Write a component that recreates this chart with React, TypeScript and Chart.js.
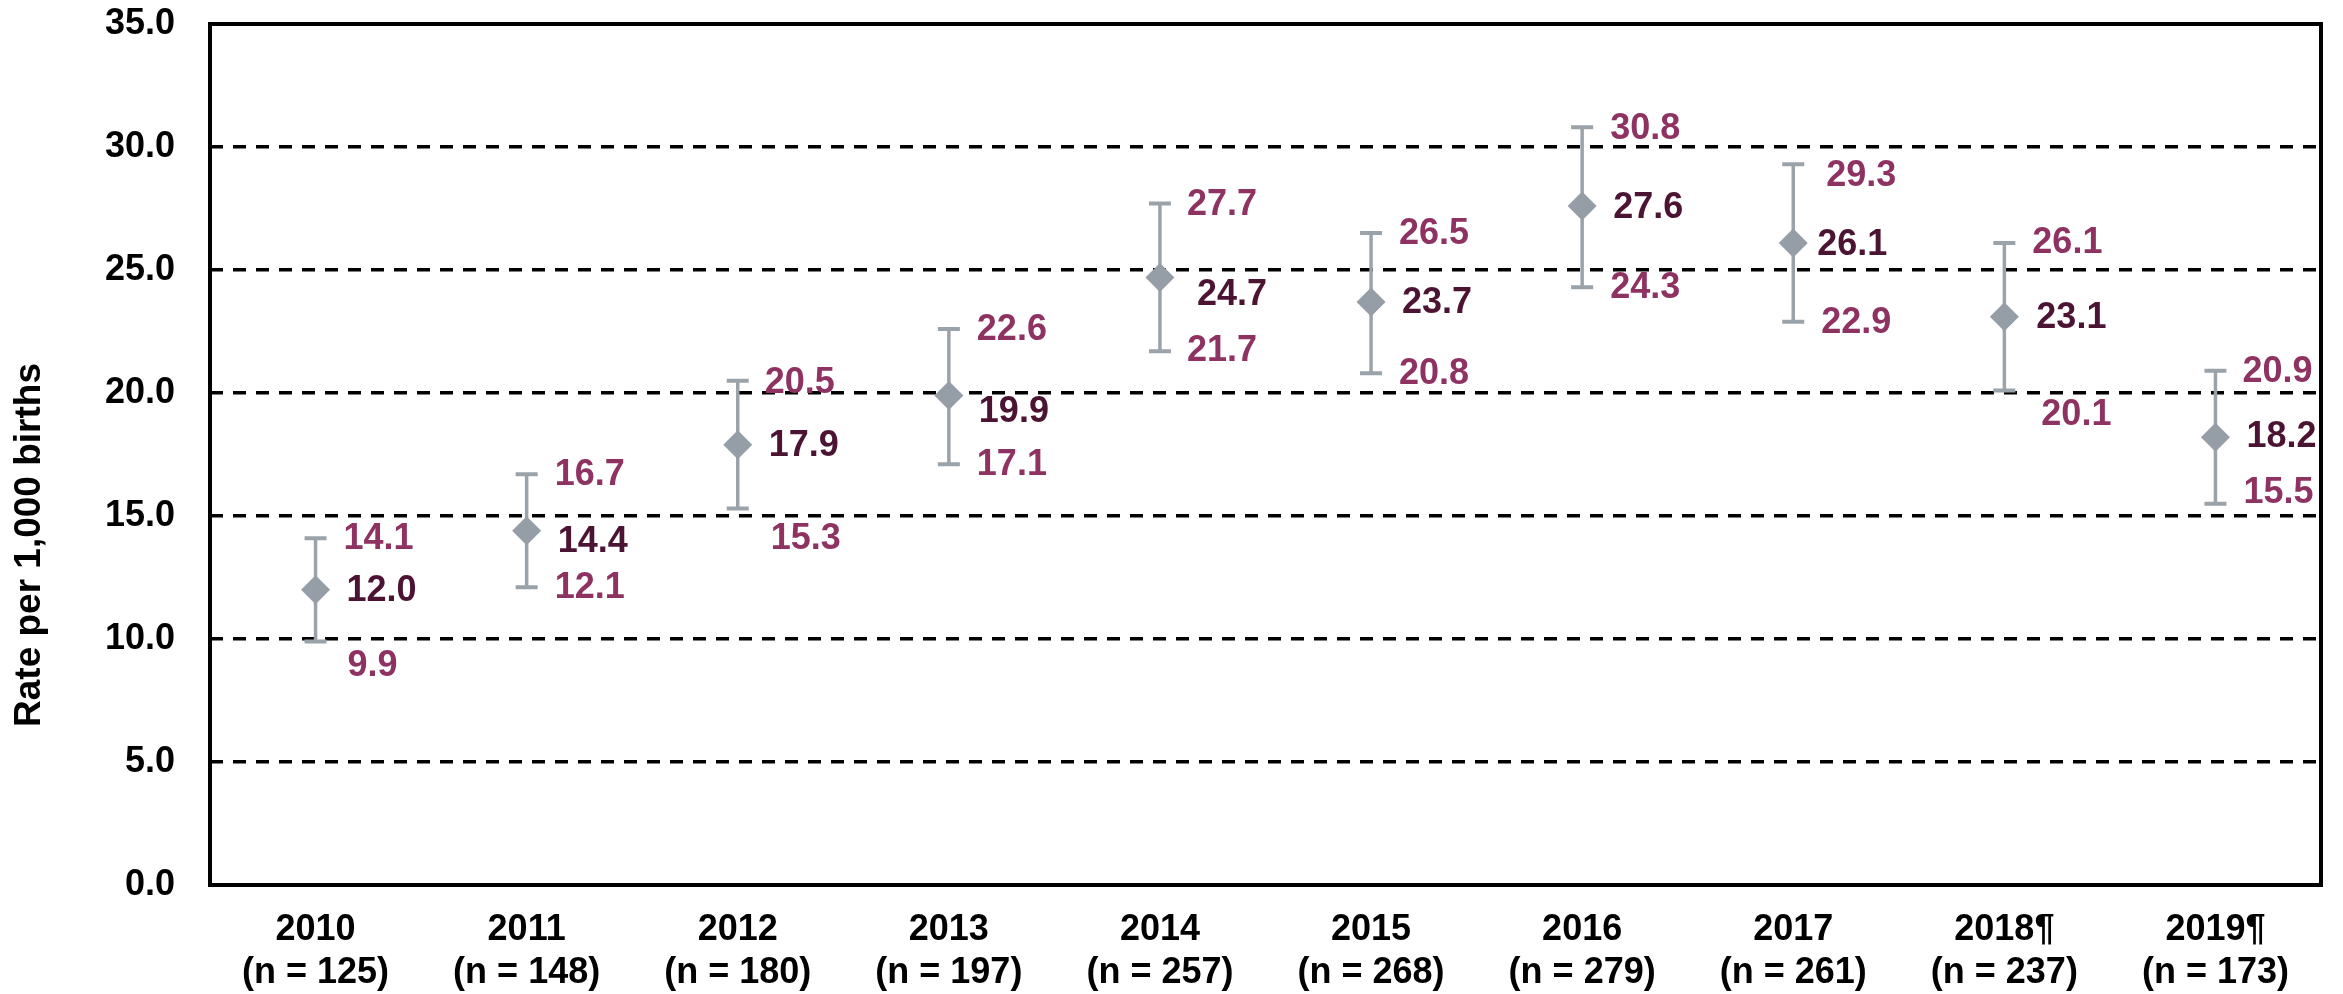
import React, { useEffect, useRef } from 'react';
import { Chart, registerables } from 'chart.js';

Chart.register(...registerables);

// ---- data ----
const years = ['2010', '2011', '2012', '2013', '2014', '2015', '2016', '2017', '2018¶', '2019¶'];
const caseCounts = [125, 148, 180, 197, 257, 268, 279, 261, 237, 173];
const rates = [12.0, 14.4, 17.9, 19.9, 24.7, 23.7, 27.6, 26.1, 23.1, 18.2];
const ciLower = [9.9, 12.1, 15.3, 17.1, 21.7, 20.8, 24.3, 22.9, 20.1, 15.5];
const ciUpper = [14.1, 16.7, 20.5, 22.6, 27.7, 26.5, 30.8, 29.3, 26.1, 20.9];
const yMin = 0;
const yMax = 35;
const yStep = 5;
const yTitle = 'Rate per 1,000 births';

// ---- label layout nudges (px, relative to the mark) ----
const meanLabelDx = [31, 31, 31, 30, 37, 31, 31, 24, 32, 31];
const meanLabelDy = [1, 11, 1, 17, 18, 1, 2, 2, 1, 0];
const upperLabelDx = [28, 28, 27, 28, 27, 28, 28, 33, 28, 27];
const upperLabelDy = [1, 1, 2, 1, 1, 1, 2, 12, 0, 1];
const lowerLabelDx = [32, 28, 33, 28, 27, 28, 28, 28, 37, 28];
const lowerLabelDy = [25, 1, 30, 1, 0, 1, 1, 1, 25, -11];

const FONT = '"Liberation Sans", Arial, Helvetica, sans-serif';
const POINT_COLOR = '#959EA7';
const ERR_COLOR = '#9AA2AA';
const CI_LABEL_COLOR = '#8E3262';
const MEAN_LABEL_COLOR = '#4C1433';

const overlayPlugin = {
  id: 'overlayPlugin',
  beforeDatasetsDraw(chart: any) {
    const { ctx, scales, chartArea } = chart;
    const x = scales.x;
    const y = scales.y;
    ctx.save();
    // frame
    ctx.strokeStyle = '#000';
    ctx.lineWidth = 4;
    ctx.setLineDash([]);
    ctx.strokeRect(chartArea.left, chartArea.top, chartArea.right - chartArea.left, chartArea.bottom - chartArea.top);
    // error bars
    ctx.strokeStyle = ERR_COLOR;
    ctx.lineCap = 'butt';
    for (let i = 0; i < rates.length; i++) {
      const px = x.getPixelForValue(i);
      const yu = y.getPixelForValue(ciUpper[i]);
      const yl = y.getPixelForValue(ciLower[i]);
      ctx.lineWidth = 3.5;
      ctx.beginPath();
      ctx.moveTo(px, yu);
      ctx.lineTo(px, yl);
      ctx.stroke();
      ctx.lineWidth = 4;
      ctx.beginPath();
      ctx.moveTo(px - 11, yu);
      ctx.lineTo(px + 11, yu);
      ctx.moveTo(px - 11, yl);
      ctx.lineTo(px + 11, yl);
      ctx.stroke();
    }
    ctx.restore();
  },
  afterDatasetsDraw(chart: any) {
    const { ctx, scales } = chart;
    const x = scales.x;
    const y = scales.y;
    ctx.save();
    ctx.font = `bold 36px ${FONT}`;
    ctx.textAlign = 'left';
    ctx.textBaseline = 'middle';
    for (let i = 0; i < rates.length; i++) {
      const px = x.getPixelForValue(i);
      const pm = y.getPixelForValue(rates[i]);
      const pu = y.getPixelForValue(ciUpper[i]);
      const pl = y.getPixelForValue(ciLower[i]);
      ctx.fillStyle = CI_LABEL_COLOR;
      ctx.fillText(ciUpper[i].toFixed(1), px + upperLabelDx[i], pu + upperLabelDy[i]);
      ctx.fillText(ciLower[i].toFixed(1), px + lowerLabelDx[i], pl + lowerLabelDy[i]);
      ctx.fillStyle = MEAN_LABEL_COLOR;
      ctx.fillText(rates[i].toFixed(1), px + meanLabelDx[i], pm + meanLabelDy[i]);
    }
    ctx.restore();
  },
  afterDraw(chart: any) {
    const { ctx } = chart;
    ctx.save();
    ctx.font = `bold 37px ${FONT}`;
    ctx.fillStyle = '#000';
    ctx.textAlign = 'center';
    ctx.textBaseline = 'middle';
    ctx.translate(30, 545);
    ctx.rotate(-Math.PI / 2);
    ctx.fillText(yTitle, 0, 0);
    ctx.restore();
  },
};

export default function App() {
  const canvasRef = useRef<HTMLCanvasElement | null>(null);

  useEffect(() => {
    if (!canvasRef.current) return;
    const chart = new Chart(canvasRef.current, {
      type: 'line',
      data: {
        labels: years.map((yr, i) => [yr, `(n = ${caseCounts[i]})`]),
        datasets: [
          {
            label: 'Rate',
            data: rates,
            showLine: false,
            pointStyle: 'rectRot',
            pointRadius: 14.5,
            pointHoverRadius: 14.5,
            pointBorderWidth: 0,
            pointBackgroundColor: POINT_COLOR,
            pointBorderColor: POINT_COLOR,
            borderColor: POINT_COLOR,
            backgroundColor: POINT_COLOR,
          },
        ],
      },
      options: {
        responsive: false,
        animation: false,
        events: [],
        layout: { padding: { top: 24, right: 22, bottom: 0, left: 0 } },
        plugins: {
          legend: { display: false },
          tooltip: { enabled: false },
          title: { display: false },
        },
        scales: {
          x: {
            type: 'category',
            offset: true,
            grid: { display: false, drawTicks: false },
            border: { display: false },
            ticks: {
              color: '#000',
              padding: 23,
              maxRotation: 0,
              autoSkip: false,
              font: { family: FONT, size: 36, weight: 'bold' },
            },
            afterFit(scale: any) {
              scale.height = 109;
            },
          },
          y: {
            min: yMin,
            max: yMax,
            grid: { color: '#000', lineWidth: 3.5, drawTicks: true, tickLength: 35, tickColor: 'rgba(0,0,0,0)' },
            border: { display: false, dash: [13, 10] },
            ticks: {
              stepSize: yStep,
              color: '#000',
              padding: 0,
              font: { family: FONT, size: 36, weight: 'bold' },
              callback: (v: any) => Number(v).toFixed(1),
            },
            afterFit(scale: any) {
              scale.width = 210;
            },
          },
        },
      },
      plugins: [overlayPlugin],
    });
    return () => chart.destroy();
  }, []);

  return (
    <div style={{ position: 'absolute', left: 0, top: 0, width: 2343, height: 994, background: '#fff' }}>
      <canvas ref={canvasRef} width={2343} height={994} style={{ display: 'block' }} />
    </div>
  );
}
